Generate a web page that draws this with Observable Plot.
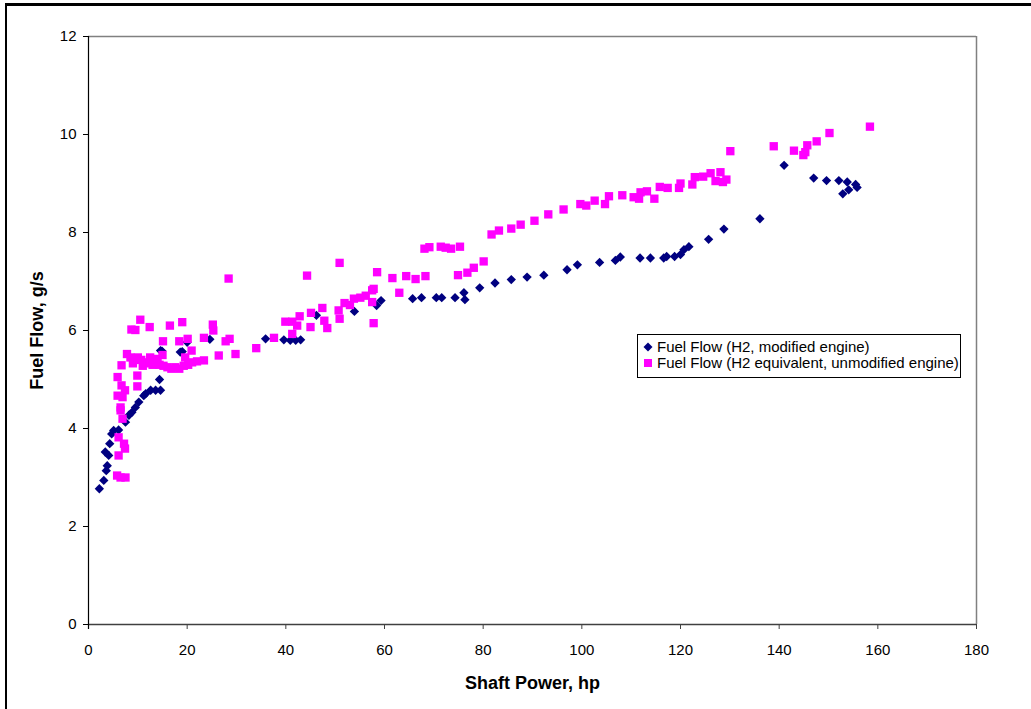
<!DOCTYPE html>
<html>
<head>
<meta charset="utf-8">
<script src="https://cdn.jsdelivr.net/npm/d3@7"></script>
<script src="https://cdn.jsdelivr.net/npm/@observablehq/plot@0.6"></script>
<style>
  html, body { margin: 0; padding: 0; background: #fff; overflow: hidden; }
  #wrap { position: relative; width: 1031px; height: 709px; font-family: "Liberation Sans", Arial, sans-serif; }
  #frame { position: absolute; left: 5px; top: 3px; width: 1100px; height: 800px; border-left: 2px solid #000; border-top: 3px solid #000; pointer-events: none; }
  #legend { position: absolute; left: 637px; top: 334px; width: 324px; height: 44px; border: 1px solid #000; background: #fff; font-size: 15px; color: #000; box-sizing: border-box; }
  .row { position: absolute; left: 5px; height: 16px; line-height: 16px; white-space: nowrap; }
  .row svg { position: absolute; left: 0; top: 3px; }
  .row span { position: absolute; left: 14px; top: 0; }
</style>
</head>
<body>
<div id="wrap"></div>
<script>
// Series 1: Fuel Flow (H2, modified engine)
const powerH2 = [2.2, 3.1, 3.6, 3.8, 4.1, 3.4, 4.3, 4.7, 5.1, 6.1, 7.5, 8.2, 8.8, 9.5, 10.2, 11.2, 11.6, 12.6, 13.6, 14.6, 14.4, 14.9, 14.6, 18.6, 19.0, 20.0, 24.6, 35.9, 39.6, 40.9, 42.0, 43.0, 46.2, 53.9, 58.4, 59.3, 65.7, 67.5, 70.5, 71.6, 74.3, 76.1, 76.3, 79.3, 82.4, 85.7, 88.9, 92.3, 97.0, 99.1, 103.6, 106.8, 107.8, 111.8, 113.9, 116.6, 117.2, 118.8, 120.0, 120.7, 121.7, 125.7, 128.8, 136.1, 141.0, 147.0, 149.6, 152.1, 153.8, 155.5, 155.8, 154.1, 152.9];
const flowH2 = [2.77, 2.94, 3.14, 3.24, 3.45, 3.52, 3.69, 3.89, 3.96, 3.97, 4.13, 4.27, 4.33, 4.43, 4.54, 4.67, 4.71, 4.78, 4.78, 4.78, 5.0, 5.58, 5.59, 5.56, 5.57, 5.76, 5.82, 5.83, 5.81, 5.8, 5.8, 5.81, 6.31, 6.39, 6.51, 6.61, 6.65, 6.67, 6.67, 6.67, 6.67, 6.77, 6.63, 6.87, 6.97, 7.04, 7.09, 7.13, 7.24, 7.34, 7.39, 7.43, 7.5, 7.48, 7.48, 7.48, 7.51, 7.51, 7.55, 7.65, 7.71, 7.86, 8.07, 8.28, 9.37, 9.11, 9.06, 9.06, 9.03, 8.98, 8.92, 8.87, 8.79];

// Series 2: Fuel Flow (H2 equivalent, unmodified engine)
const powerEq = [5.8, 6.5, 7.5, 6.1, 7.4, 7.2, 6.1, 6.9, 6.5, 6.5, 6.9, 5.9, 7.4, 6.7, 9.9, 5.9, 9.9, 6.7, 7.8,
  8.5, 9.3, 10.0, 10.7, 11.4, 12.2, 13.0, 13.7, 14.4, 15.2, 16.0, 16.8, 17.6, 18.4, 19.3, 20.2, 21.0, 22.0, 23.4, 11.0, 12.5, 14.0, 15.0, 9.0, 19.6, 20.9,
  8.7, 9.5, 10.5, 12.4, 16.5, 19.0, 25.2, 25.3, 15.1, 18.4, 20.1, 23.4, 27.8, 28.6, 26.4, 29.8, 28.4, 34.0, 37.6, 39.9, 41.3, 42.3, 42.8, 41.3, 45.0, 44.3, 45.1, 47.4, 47.8, 48.4, 50.9, 50.7, 50.9, 51.9, 53.0, 53.8, 55.1, 56.2, 57.5, 57.8, 57.5, 57.8, 58.5, 61.6, 63.0, 64.4, 66.3, 68.3, 68.1, 69.1, 71.4, 72.4, 73.5, 75.3, 74.9, 76.8, 78.1, 80.1,
  81.7, 83.2, 85.7, 87.6, 90.4, 93.2, 96.3, 99.7, 100.9, 102.6, 104.7, 105.5, 108.2, 110.5, 111.6, 111.9, 113.2, 114.7, 115.8, 117.4, 119.7, 120.0, 122.4, 122.9, 124.6, 126.1, 128.1, 127.1, 129.3, 128.6, 130.1, 138.9, 143.0, 144.9, 145.3, 145.7, 147.6, 150.2, 158.4];
const flowEq = [3.04, 3.0, 3.0, 3.45, 3.59, 3.69, 3.82, 4.2, 4.37, 4.43, 4.64, 4.67, 4.78, 4.88, 4.86, 5.05, 5.08, 5.29, 5.52,
  5.45, 5.4, 5.45, 5.4, 5.35, 5.33, 5.3, 5.35, 5.3, 5.28, 5.25, 5.22, 5.25, 5.22, 5.28, 5.3, 5.35, 5.37, 5.39, 5.28, 5.45, 5.42, 5.5, 5.33, 5.45, 5.59,
  6.02, 6.01, 6.22, 6.07, 6.1, 6.17, 6.12, 6.0, 5.78, 5.78, 5.83, 5.85, 5.78, 5.83, 5.49, 5.52, 7.06, 5.64, 5.85, 6.18, 6.18, 6.1, 6.29, 5.93, 6.07, 7.12, 6.36, 6.46, 6.2, 6.05, 7.38, 6.41, 6.24, 6.56, 6.52, 6.65, 6.67, 6.71, 6.82, 6.85, 6.58, 6.15, 7.19, 7.07, 6.77, 7.11, 7.05, 7.11, 7.67, 7.7, 7.71, 7.69, 7.67, 7.71, 7.13, 7.18, 7.28, 7.41,
  7.96, 8.04, 8.08, 8.16, 8.24, 8.37, 8.47, 8.58, 8.55, 8.65, 8.58, 8.74, 8.76, 8.72, 8.69, 8.82, 8.84, 8.69, 8.93, 8.91, 8.91, 9.0, 8.98, 9.13, 9.14, 9.21, 9.23, 9.05, 9.08, 9.03, 9.66, 9.76, 9.67, 9.58, 9.64, 9.78, 9.86, 10.03, 10.16];

const xTicks = [0, 20, 40, 60, 80, 100, 120, 140, 160, 180];
const yTicks = [0, 2, 4, 6, 8, 10, 12];
const seriesNames = ["Fuel Flow (H2, modified engine)", "Fuel Flow (H2 equivalent, unmodified engine)"];
const xTitle = "Shaft Power, hp";
const yTitle = "Fuel Flow, g/s";

const h2 = powerH2.map((p, i) => ({power: p, flow: flowH2[i]}));
const eq = powerEq.map((p, i) => ({power: p, flow: flowEq[i]}));

const navy = "#000080", magenta = "#FF00FF";

const chart = Plot.plot({
  width: 1031,
  height: 709,
  marginLeft: 88,
  marginRight: 55,
  marginTop: 36,
  marginBottom: 85,
  style: {fontFamily: "'Liberation Sans', Arial, sans-serif", fontSize: "15px", background: "transparent", color: "#000", overflow: "visible"},
  x: {domain: [0, 180], label: null},
  y: {domain: [0, 12], label: null},
  marks: [
    Plot.ruleY([12], {stroke: "#808080", strokeWidth: 1.5}),
    Plot.ruleX([180], {stroke: "#808080", strokeWidth: 1.5}),
    Plot.axisY({ticks: yTicks, tickSize: 5, tickPadding: 7, label: null, stroke: "#000", fontSize: 15}),
    Plot.axisX({ticks: xTicks, tickSize: 5, tickPadding: 15, label: null, stroke: "#404040", fontSize: 15}),
    Plot.ruleY([0], {stroke: "#404040", strokeWidth: 1.5}),
    Plot.ruleX([0], {stroke: "#000", strokeWidth: 1.2, y1: -0.1, y2: 12}),
    Plot.dot(h2, {x: "power", y: "flow", symbol: "diamond2", r: 4.2, fill: navy, stroke: null}),
    Plot.dot(eq, {x: "power", y: "flow", symbol: "square", r: 4.7, fill: magenta, stroke: null}),
    Plot.text([xTitle], {frameAnchor: "bottom", dy: 64, fontWeight: "bold", fontSize: 18, fill: "#000"}),
    Plot.text([yTitle], {frameAnchor: "left", textAnchor: "middle", dx: -51, rotate: -90, fontWeight: "bold", fontSize: 18, fill: "#000"})
  ]
});

const wrap = document.getElementById("wrap");
wrap.appendChild(chart);
chart.style.position = "absolute";
chart.style.left = "0px";
chart.style.top = "0px";

const frame = document.createElement("div");
frame.id = "frame";
wrap.appendChild(frame);

const legend = document.createElement("div");
legend.id = "legend";
legend.innerHTML =
  `<div class="row" style="top:4px"><svg width="10" height="10"><path d="M5,0.5L9.5,5L5,9.5L0.5,5Z" fill="${navy}"/></svg><span>${seriesNames[0]}</span></div>` +
  `<div class="row" style="top:20px"><svg width="10" height="10"><rect x="1" y="1" width="8" height="8" fill="${magenta}"/></svg><span>${seriesNames[1]}</span></div>`;
wrap.appendChild(legend);
</script>
</body>
</html>
